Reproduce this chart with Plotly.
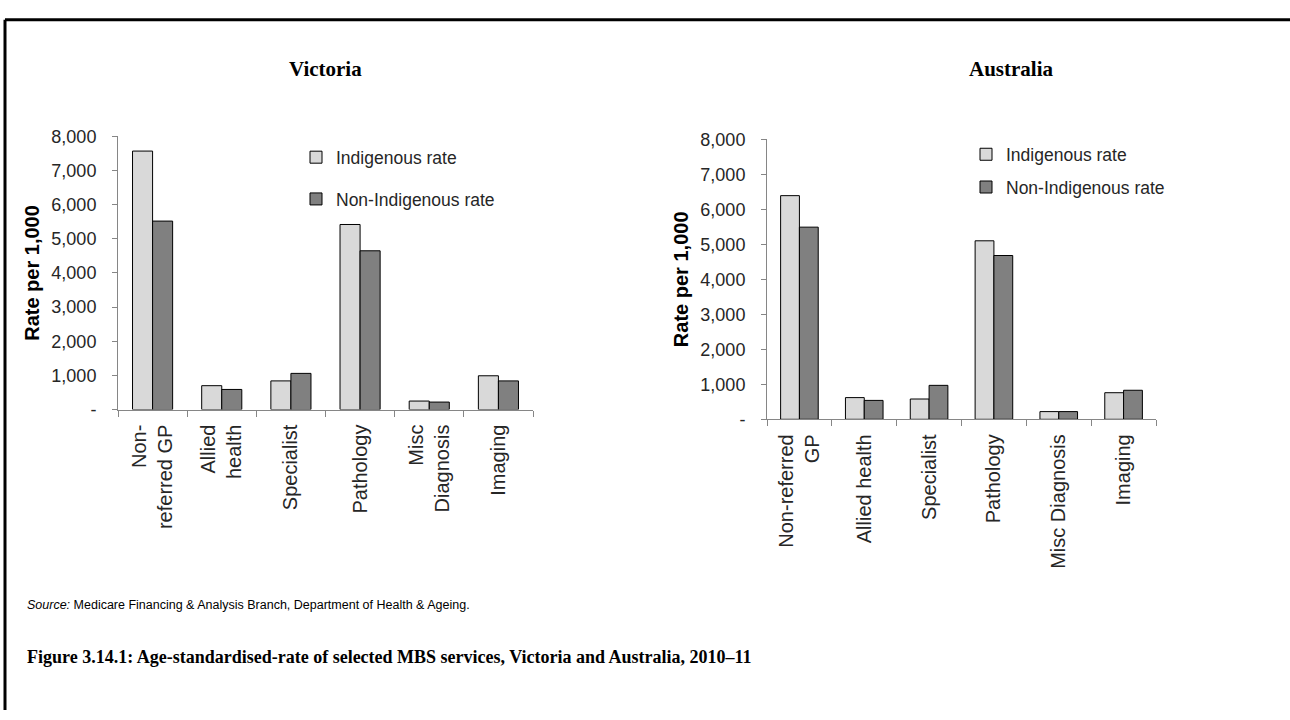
import plotly.graph_objects as go

# ---- data ----
categories_vic = ["Non-<br>referred GP", "Allied<br>health", "Specialist", "Pathology", "Misc<br>Diagnosis", "Imaging"]
categories_aus = ["Non-referred<br>GP", "Allied health", "Specialist", "Pathology", "Misc Diagnosis", "Imaging"]
vic_indigenous = [7570, 700, 840, 5420, 250, 990]
vic_non_indigenous = [5520, 590, 1060, 4650, 220, 840]
aus_indigenous = [6390, 620, 580, 5100, 220, 760]
aus_non_indigenous = [5490, 540, 970, 4680, 220, 830]
series_names = ["Indigenous rate", "Non-Indigenous rate"]
y_tickvals = [0, 1000, 2000, 3000, 4000, 5000, 6000, 7000, 8000]
y_ticktext = ["-", "1,000", "2,000", "3,000", "4,000", "5,000", "6,000", "7,000", "8,000"]

W, H = 1290, 720
def px(x):
    return x / W
def py(y):
    return 1 - y / H

SANS = "Arial, Liberation Sans, sans-serif"
SERIF = "Palatino Linotype, Book Antiqua, Liberation Serif, serif"
LIGHT = "#d9d9d9"
DARK = "#808080"
AXIS = "#868686"
TXT = "#262626"

fig = go.Figure()
for cats, ind, non, xa, ya, lg in [
    (categories_vic, vic_indigenous, vic_non_indigenous, "x", "y", "legend"),
    (categories_aus, aus_indigenous, aus_non_indigenous, "x2", "y2", "legend2"),
]:
    fig.add_trace(go.Bar(x=cats, y=ind, name=series_names[0], xaxis=xa, yaxis=ya,
                         marker=dict(color=LIGHT, line=dict(color="#000000", width=1)),
                         legend=lg, legendgroup=lg + "a"))
    fig.add_trace(go.Bar(x=cats, y=non, name=series_names[1], xaxis=xa, yaxis=ya,
                         marker=dict(color=DARK, line=dict(color="#000000", width=1)),
                         legend=lg, legendgroup=lg + "b"))

xcommon = dict(showline=True, linecolor=AXIS, linewidth=1, ticks="outside", ticklen=6,
               tickcolor=AXIS, tickson="boundaries", tickangle=-90, showgrid=False,
               tickfont=dict(family=SANS, size=20, color=TXT), ticklabelstandoff=6,
               fixedrange=True)
ycommon = dict(range=[0, 8000], tickvals=y_tickvals, ticktext=y_ticktext, showline=True,
               linecolor=AXIS, linewidth=1, ticks="outside", ticklen=5, tickcolor=AXIS,
               showgrid=False, zeroline=False, tickfont=dict(family=SANS, size=18, color=TXT),
               ticklabelstandoff=12, fixedrange=True,
               title=dict(text="Rate per 1,000", font=dict(family=SANS, size=20, color="#000000", weight="bold"),
                          standoff=6))

fig.update_layout(
    width=W, height=H, autosize=False,
    margin=dict(l=0, r=0, t=0, b=0),
    paper_bgcolor="white", plot_bgcolor="white",
    barmode="group", bargap=0.42, bargroupgap=0,
    showlegend=True,
    xaxis=dict(domain=[px(118), px(533)], anchor="y", **xcommon),
    yaxis=dict(domain=[py(411), py(130)], anchor="x", **ycommon),
    xaxis2=dict(domain=[px(767), px(1156)], anchor="y2", **xcommon),
    yaxis2=dict(domain=[py(421), py(133)], anchor="x2", **ycommon),
    legend=dict(x=px(296), y=py(133), xanchor="left", yanchor="top", traceorder="grouped",
                tracegroupgap=16, font=dict(family=SANS, size=17.5, color=TXT),
                bgcolor="rgba(0,0,0,0)", itemclick=False),
    legend2=dict(x=px(966), y=py(130), xanchor="left", yanchor="top", traceorder="grouped",
                 tracegroupgap=7, font=dict(family=SANS, size=17.5, color=TXT),
                 bgcolor="rgba(0,0,0,0)", itemclick=False),
    shapes=[
        dict(type="line", xref="paper", yref="paper", x0=px(5), x1=1, y0=py(10), y1=py(10),
             line=dict(color="black", width=3)),
        dict(type="line", xref="paper", yref="paper", x0=px(5), x1=px(5), y0=py(10), y1=0,
             line=dict(color="black", width=3)),
    ],
    annotations=[
        dict(text="<b>Victoria</b>", x=px(325), y=py(61), xref="paper", yref="paper",
             showarrow=False, xanchor="center", yanchor="middle",
             font=dict(family=SERIF, size=21, color="black")),
        dict(text="<b>Australia</b>", x=px(1011), y=py(61), xref="paper", yref="paper",
             showarrow=False, xanchor="center", yanchor="middle",
             font=dict(family=SERIF, size=21, color="black")),
        dict(text="<i>Source:</i> Medicare Financing & Analysis Branch, Department of Health & Ageing.",
             x=px(25), y=py(612), xref="paper", yref="paper", showarrow=False,
             xanchor="left", yanchor="middle", font=dict(family=SANS, size=12.5, color="black")),
        dict(text="<b>Figure 3.14.1: Age-standardised-rate of selected MBS services, Victoria and Australia, 2010–11</b>",
             x=px(25), y=py(665), xref="paper", yref="paper", showarrow=False,
             xanchor="left", yanchor="middle", font=dict(family=SERIF, size=18, color="black")),
    ],
)

fig.write_html("out.html", post_script="document.body.style.margin='0';",
               config={"displayModeBar": False})
